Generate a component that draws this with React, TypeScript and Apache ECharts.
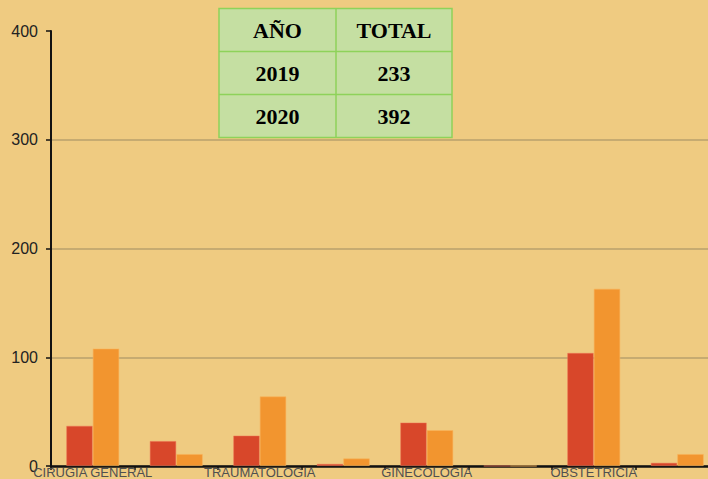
import React, { useEffect, useRef } from "react";
import * as echarts from "echarts";

const categories = ["CIRUGIA GENERAL", "", "TRAUMATOLOGIA", "", "GINECOLOGIA", "", "OBSTETRICIA", ""];
const values2019 = [37, 23, 28, 2, 40, 0, 104, 3];
const values2020 = [108, 11, 64, 7, 33, 0, 163, 11];
const tableHeader = ["AÑO", "TOTAL"];
const tableYears = ["2019", "2020"];
const tableTotals = [233, 392];

const BG = "#EFCB81";
const RED = "#D8472A";
const ORANGE = "#F2952F";
const TABLE_FILL = "#C5DFA2";
const TABLE_BORDER = "#8ED25A";

function buildTable() {
  const x0 = 219;
  const y0 = 8.5;
  const colW = [117, 116];
  const rowH = 43;
  const rows = [tableHeader, ...tableYears.map((y, i) => [y, String(tableTotals[i])])];
  const children: any[] = [];
  children.push({
    type: "rect",
    shape: { x: x0, y: y0, width: colW[0] + colW[1], height: rowH * rows.length },
    style: { fill: TABLE_FILL, stroke: TABLE_BORDER, lineWidth: 1.5 },
  });
  for (let r = 1; r < rows.length; r++) {
    children.push({
      type: "line",
      shape: { x1: x0, y1: y0 + r * rowH, x2: x0 + colW[0] + colW[1], y2: y0 + r * rowH },
      style: { stroke: TABLE_BORDER, lineWidth: 1.5 },
    });
  }
  children.push({
    type: "line",
    shape: { x1: x0 + colW[0], y1: y0, x2: x0 + colW[0], y2: y0 + rowH * rows.length },
    style: { stroke: TABLE_BORDER, lineWidth: 1.5 },
  });
  rows.forEach((row, r) => {
    row.forEach((txt, c) => {
      const cx = c === 0 ? x0 + colW[0] / 2 : x0 + colW[0] + colW[1] / 2;
      children.push({
        type: "text",
        x: cx,
        y: y0 + r * rowH + rowH / 2,
        style: {
          text: txt,
          fill: "#000",
          font: "bold 22px 'Liberation Serif', 'DejaVu Serif', serif",
          align: "center",
          verticalAlign: "middle",
        },
      });
    });
  });
  return { type: "group", z: 100, children };
}

export default function App() {
  const ref = useRef<HTMLDivElement>(null);
  useEffect(() => {
    if (!ref.current) return;
    const chart = echarts.init(ref.current, null, { renderer: "svg" });
    chart.setOption({
      animation: false,
      backgroundColor: BG,
      grid: {
        left: 51,
        top: 31,
        bottom: 13,
        right: -617,
        width: 668,
        containLabel: false,
        outerBoundsMode: "none",
      },
      xAxis: {
        type: "category",
        data: categories,
        axisLine: { lineStyle: { color: "#111", width: 2.5 } },
        axisTick: { show: true, length: 4, lineStyle: { color: "#111", width: 1.5 } },
        axisLabel: {
          interval: 0,
          color: "#505050",
          fontSize: 13,
          fontFamily: "'Liberation Sans', Arial, sans-serif",
          margin: 0,
          verticalAlign: "top",
          lineHeight: 13,
        },
      },
      yAxis: {
        type: "value",
        min: 0,
        max: 400,
        interval: 100,
        axisLine: { show: true, lineStyle: { color: "#111", width: 2 } },
        axisTick: { show: true, length: 5, lineStyle: { color: "#111", width: 1.5 } },
        axisLabel: {
          color: "#222",
          fontSize: 16,
          fontFamily: "'Liberation Sans', Arial, sans-serif",
          margin: 13,
        },
        splitLine: { show: true, showMaxLine: false, lineStyle: { color: "#B9A06C", width: 1.5 } },
      },
      series: [
        {
          name: "2019",
          type: "bar",
          data: values2019,
          barWidth: 26.5,
          barGap: "0%",
          itemStyle: { color: RED, borderColor: "rgba(240,120,90,0.6)", borderWidth: 0.8 },
        },
        {
          name: "2020",
          type: "bar",
          data: values2020,
          barWidth: 26.5,
          barGap: "0%",
          itemStyle: { color: ORANGE, borderColor: "rgba(250,180,90,0.7)", borderWidth: 0.8 },
        },
      ],
      graphic: [buildTable()],
    });
    return () => chart.dispose();
  }, []);
  return (
    <div
      ref={ref}
      style={{ position: "fixed", left: 0, top: 0, width: 708, height: 479, background: BG }}
    />
  );
}
